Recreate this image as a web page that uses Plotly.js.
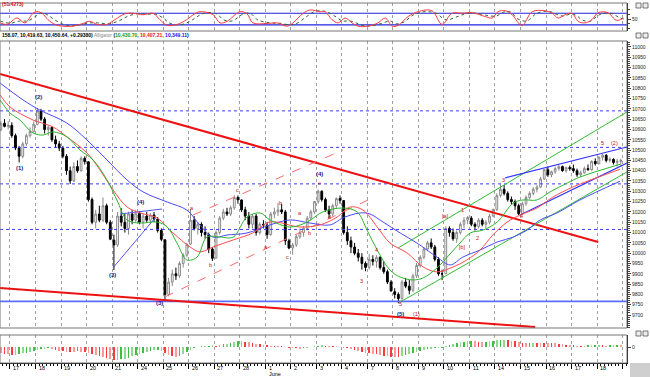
<!DOCTYPE html>
<html><head><meta charset="utf-8">
<script src="https://cdn.plot.ly/plotly-3.0.1.min.js"></script>
<style>body{margin:0;padding:0;background:#fff}#chart{width:650px;height:377px}</style>
</head><body><div id="chart"></div>
<script>
// ---------- DATA ----------
const dayLabels = ['17','18','19','20','21','24','25','26','27','28','1','2','3','4','7','8','9','10','11','14','15','16','17','18'];
const monthLabel = 'June';
const firstBar = -3; // bars before the first labelled day (May 14)

const open = [10600,10630,10615,
 10620,10570,10510,10470,10530,10570,10590,
 10625,10690,10650,10600,10610,10550,10530,
 10510,10470,10400,10350,10420,10400,10460,
 10443,10260,10150,10190,10160,10230,10150,
 10063,10040,10180,10150,10120,10190,10160,
 10193,10150,10180,10160,10185,10165,10110,
 10065,9800,9860,9900,9890,9950,9990,
 10044,10160,10120,10140,10100,10090,10020,
 9976,10100,10170,10200,10190,10220,10270,
 10258,10210,10180,10140,10180,10100,10140,
 10136,10090,10190,10200,10210,10200,10060,
 10025,10040,10080,10100,10120,10170,10200,
 10249,10300,10260,10210,10190,10230,10265,
 10255,10100,10060,10030,10000,9980,9950,
 9931,9970,9960,9980,9930,9910,9860,
 9813,9800,9780,9860,9840,9820,9890,
 9940,9980,10020,10050,10030,9970,9900,
 9900,10120,10100,10070,10100,10140,10160,
 10170,10140,10130,10160,10140,10150,10180,
 10212,10280,10310,10290,10260,10250,10230,
 10191,10240,10270,10290,10310,10320,10360,
 10404,10380,10395,10410,10420,10400,10415,
 10410,10400,10380,10390,10410,10405,10445,
 10434,10465,10475,10450,10455,10440,10445];
const high = [10640,10650,10640,
 10635,10580,10520,10540,10580,10610,10640,
 10705,10700,10660,10620,10615,10570,10545,
 10520,10480,10420,10440,10450,10470,10470,
 10445,10270,10210,10230,10270,10240,10160,
 10090,10200,10218,10190,10200,10210,10210,
 10203,10190,10200,10195,10200,10175,10120,
 10065,9880,9920,9930,9960,10000,10050,
 10214,10180,10150,10150,10130,10100,10030,
 10110,10180,10215,10220,10230,10281,10280,
 10260,10225,10200,10190,10190,10150,10160,
 10150,10200,10220,10245,10240,10210,10070,
 10050,10090,10120,10130,10180,10210,10252,
 10309,10305,10270,10230,10240,10270,10280,
 10256,10130,10080,10050,10020,10000,9960,
 9996,9990,9990,9985,9960,9920,9870,
 9830,9810,9870,9880,9870,9900,9952,
 9990,10030,10060,10071,10040,9980,9920,
 10130,10130,10120,10110,10150,10175,10180,
 10180,10150,10170,10170,10160,10190,10216,
 10290,10334,10330,10300,10275,10260,10240,
 10250,10280,10300,10320,10330,10370,10407,
 10420,10400,10420,10427,10425,10420,10425,
 10430,10410,10400,10420,10430,10450,10460,
 10470,10481,10480,10465,10460,10458,10458.07];
const low = [10590,10610,10600,
 10560,10500,10440,10460,10520,10560,10585,
 10620,10640,10580,10570,10540,10510,10495,
 10460,10380,10335,10345,10390,10395,10430,
 10250,10140,10120,10150,10150,10140,10063,
 9918,10030,10130,10100,10090,10140,10150,
 10140,10120,10150,10140,10150,10100,10058,
 9774,9790,9840,9870,9880,9930,9980,
 10040,10110,10090,10080,10070,10000,9962,
 9976,10090,10160,10180,10180,10210,10240,
 10200,10160,10120,10120,10085,10090,10120,
 10070,10085,10170,10180,10190,10040,10019,
 9992,10030,10070,10080,10110,10160,10190,
 10240,10250,10200,10170,10180,10220,10240,
 10090,10040,10000,9990,9960,9920,9912,
 9920,9940,9930,9920,9900,9850,9814,
 9780,9757,9770,9830,9800,9810,9880,
 9930,9970,10010,10020,9960,9890,9869,
 9900,10080,10060,10050,10090,10120,10140,
 10130,10110,10120,10130,10120,10140,10175,
 10205,10270,10280,10250,10235,10210,10185,
 10190,10230,10260,10280,10295,10315,10355,
 10370,10368,10385,10400,10395,10390,10400,
 10390,10370,10370,10385,10400,10400,10425,
 10430,10450,10440,10440,10430,10420,10419.63];
const close = [10630,10615,10620,
 10570,10510,10470,10530,10570,10590,10625,
 10690,10650,10600,10610,10550,10530,10510,
 10470,10400,10350,10420,10400,10460,10444,
 10260,10150,10190,10160,10230,10150,10068,
 10040,10180,10150,10120,10190,10160,10193,
 10150,10180,10160,10185,10165,10110,10067,
 9800,9860,9900,9890,9950,9990,10043,
 10160,10120,10140,10100,10090,10020,9975,
 10100,10170,10200,10190,10220,10270,10259,
 10210,10180,10140,10180,10100,10140,10137,
 10090,10190,10200,10210,10200,10060,10025,
 10040,10080,10100,10120,10170,10200,10250,
 10300,10260,10210,10190,10230,10265,10256,
 10100,10060,10030,10000,9980,9950,9931,
 9970,9960,9980,9930,9910,9860,9816,
 9800,9780,9860,9840,9820,9890,9940,
 9980,10020,10050,10030,9970,9900,9899,
 10120,10100,10070,10100,10140,10160,10173,
 10140,10130,10160,10140,10150,10180,10212,
 10280,10310,10290,10260,10250,10230,10191,
 10240,10270,10290,10310,10320,10360,10405,
 10380,10395,10410,10420,10400,10415,10410,
 10400,10380,10390,10410,10405,10445,10434,
 10465,10475,10450,10455,10440,10445,10450.64];

// Alligator lines (read at sparse points: bar position, price)
const jawX  = [-2.7,3.6,8.2,15.6,21.1,26.6,32.1,36.5,43.1,48.5,52.1,55.7,59.5,65,71.3,76.8,82.3,87.8,91.3,96,98.7,102.3,107,111.6,117.1,120.7,124.2,128.9,133.6,138,141.8,145.4,150,156.3,167.3];
const jawY  = [10825,10743,10694,10631,10549,10452,10355,10297,10248,10209,10136,10078,10088,10098,10137,10161,10146,10137,10171,10195,10190,10151,10098,10049,9981,9943,9981,10015,10054,10078,10112,10161,10195,10258,10349];
const teethX = [-2.7,0,6.3,11.8,15.6,21.1,24.7,28.3,32.1,35.7,40.3,44.7,49.4,52.1,55.7,61.2,66.6,71.3,79.5,85,89.7,93.3,96.8,100.7,104.2,108.9,113.3,117.1,121.5,125.3,128.9,132.5,136.3,139.9,144.5,148.9,154.4,167.3];
const teethY = [10767,10709,10646,10612,10564,10486,10403,10306,10224,10195,10171,10098,10030,10006,10030,10064,10098,10151,10127,10137,10175,10224,10209,10127,10049,10001,9933,9909,9933,9967,10015,10090,10150,10185,10219,10272,10321,10407];
const lipsX = [-2.7,0,2.7,6.3,9.1,11.8,15.6,19.2,22.8,26.6,29.3,32.1,35.7,40.3,43.1,45.8,48.5,51.3,54,57.6,61.2,65,68.6,71.3,76.8,81.5,85.8,91.3,95.2,97.9,100.7,104.2,107,110.5,113.3,117.1,119.9,123.4,126.2,129.7,133.6,138,140.7,144.5,148.1,152.8,156.3,167.3];
const lipsY = [10743,10680,10646,10583,10573,10588,10564,10500,10452,10355,10258,10161,10146,10151,10127,10049,9967,9981,10078,10078,10078,10175,10195,10161,10127,10151,10200,10219,10200,10112,10015,9918,9884,9870,9880,9928,9981,10049,10098,10112,10151,10243,10258,10258,10297,10340,10369,10431];

// Stochastic (top panel)
const stochKX = [-2.7,-0.8,1.9,4.1,6.3,7.4,8.8,10.4,12.3,14.3,17.3,20,21.9,23.9,26.6,28.8,31.5,33.7,36.5,39.2,41.1,43.1,45.8,48.5,50.2,52.1,55.7,57.6,59.5,63.1,65,66.6,70.5,73.2,76,77.6,80.4,82.3,85,86.4,88.3,90,91.9,93.8,95.4,98.2,100.9,102.9,104.8,106.4,109.2,111.9,115.7,118.5,121.2,124,126.7,130.3,132.2,133.8,135.8,137.7,140.4,143.2,146.7,148.7,150.3,152.2,154.1,155.8,157.7,159.6,161.3,164,165.9,166.8,168.2];
const stochK = [30,22,55,30,80,88,80,47,22,13,13,27,38,22,22,47,77,80,72,80,47,17,22,47,72,88,72,30,38,88,77,30,27,30,13,30,80,97,88,88,47,30,55,30,13,13,30,55,13,17,63,88,93,22,80,80,83,63,55,88,93,72,17,88,93,80,55,72,80,38,30,47,83,83,47,43,55];
const stochDX = [-2.7,0,2.7,4.9,7.1,8.8,10.4,12.3,14.3,16.5,19.2,21.9,24.1,26.9,29.6,32.4,35.1,37.8,40,42,43.9,46.6,49.4,51.3,53.5,56.5,58.7,60.9,63.9,65.8,68,71.3,74,76.8,78.7,81.5,83.7,86.4,89.1,91.1,93.3,94.9,96.5,99.3,102,104.2,105.9,108.1,110.5,113.8,116.8,119.6,122.3,125.1,127.8,131.1,133.3,135.2,137.1,139.3,141.8,144.5,147.8,149.8,151.7,153.6,155.2,156.9,159.1,160.7,162.6,165.1,167.3,168.4];
const stochD = [40,28,40,40,65,82,70,45,25,15,20,30,30,25,38,65,78,75,75,55,28,20,38,62,82,78,45,40,75,80,45,30,28,20,28,65,90,90,65,40,40,30,18,15,28,40,25,35,70,88,80,45,60,78,80,68,65,85,88,50,40,80,90,75,65,75,70,45,38,60,80,78,55,50];

// Oscillator histogram (bottom panel), one value per bar
const osc = [-6,-7,-7,
 -8,-8,-7,-6,-6,-5,-4,
 -3,-2,-2,-1,-2,-3,-4,
 -4,-5,-5,-5,-4,-5,-5,
 -6,-7,-8,-9,-10,-11,-12,
 -13,-13,-12,-12,-11,-9,-8,
 -7,-6,-5,-4,-3,-3,-4,
 -6,-8,-9,-10,-9,-7,-5,
 -3,-1,0.5,1,1,1.5,2,
 1.5,2,3,3.5,4.5,5,6,
 6,5.5,5,4.5,3.5,3,2.5,
 2,1.5,1,1,1,0.5,-0.5,
 -1,-1,-1.5,-1,-0.5,0.5,1,
 1.5,2,1.5,1,1,1,0.5,
 -0.5,-1,-2,-3,-4,-5,-6,
 -6,-7,-7,-8,-9,-9,-10,
 -10,-10,-9,-8,-7,-6,-5,
 -4,-3,-2,-1.5,-1,-0.5,-0.5,
 1,2,3,4,5,5.5,6,
 6,6,5.5,5,5.5,6,6.5,
 7,7,7.5,7,6.5,6,5,
 4,4,4.5,4.5,4.5,4.5,4.5,
 4.5,4,4,3.5,3,2.5,2,
 2,1.5,1.5,1.5,2,2,2.5,
 2.5,2,1.5,2,2,2.5,2];

// Drawn lines: [x0, y0, x1, y1] in bar / price units
const trendRedUpper = [-2.74,10869,161.3,10054];
const trendRedLower = [-2.74,9831,144,9642];
const supportBlue = 9766;
const levelsDotted = [10690,10513,10336,10115];
const channelRedA = [50.2,10185,91.3,10500];
const channelRedB = [42.5,9788,98.2,10258];
const triBlueA = [28.2,9928,39.8,10171];
const triBlueB = [30.2,10190,41.7,10214];
const channelGreenA = [106.4,10025,169.2,10685];
const channelGreenB = [107,9763,169.2,10394];
const wedgeBlueA = [135.8,10365,169.2,10515];
const wedgeBlueB = [139.9,10185,169.2,10437];

// Wave labels: [text, bar, price, colour key]
const waveLabels = [
 ['(1)',2.74,10413,'n'],['(2)',7.7,10758,'n'],['(3)',28.2,9894,'n'],['(4)',35.7,10248,'n'],['(3)',41.1,9758,'n'],
 ['a',49.9,10219,'r'],['b',55.1,9943,'r'],['c',62.5,10306,'r'],
 ['a',70.2,10030,'r'],['b',74.3,10243,'r'],['c',76.2,9981,'r'],['a',79.5,10195,'r'],['b',82,10098,'r'],['d',87.5,10175,'r'],
 ['(4)',85,10384,'n'],['e',85,10340,'r'],['3',96.5,9865,'r'],['4',100.4,10015,'r'],
 ['5',107,9752,'r'],['(5)',107.2,9705,'n'],['(1)',111.4,9705,'r'],
 ['[a]',119.3,10180,'r'],['1',124.2,10209,'r'],['[b]',124,10030,'r'],['2',128.1,10074,'r'],
 ['3',135.2,10355,'r'],['4',140.2,10180,'r'],['5',162.6,10534,'r'],['(2)',165.7,10534,'r']];

const xRange = [-2.74,169.2];
const priceRange = [9637,11029];

// ---------- BUILD ----------
const H = 377, W = 650, plotRight = 627/650;
const py = p => 1 - p/H;
const xs = open.map((_,i)=>firstBar+i+0.5);
const traces = [];

function seg(a, color, width, dash){
  traces.push({type:'scatter',mode:'lines',x:[a[0],a[2]],y:[a[1],a[3]],xaxis:'x',yaxis:'y2',
    line:{color:color,width:width,dash:dash||'solid'},hoverinfo:'skip'});
}
levelsDotted.forEach(v=>seg([xRange[0],v,xRange[1],v],'#3b3bff',1,'dot'));
seg([xRange[0],supportBlue,xRange[1],supportBlue],'#5a6cff',1.6);
seg(trendRedUpper,'#ee1111',2);
seg(trendRedLower,'#ee1111',2);
seg(channelRedA,'#ff6b6b',1,'dash');
seg(channelRedB,'#ff6b6b',1,'dash');
seg(triBlueA,'#5555ff',1);
seg(triBlueB,'#5555ff',1);
seg(channelGreenA,'#33bb33',1);
seg(channelGreenB,'#33bb33',1);
seg(wedgeBlueA,'#3333ff',1.2);
seg(wedgeBlueB,'#3333ff',1.2);

traces.push({type:'scatter',mode:'lines',x:jawX,y:jawY,xaxis:'x',yaxis:'y2',line:{color:'#4a4aff',width:1,shape:'spline'}});
traces.push({type:'scatter',mode:'lines',x:teethX,y:teethY,xaxis:'x',yaxis:'y2',line:{color:'#ff4d4d',width:1,shape:'spline'}});
traces.push({type:'scatter',mode:'lines',x:lipsX,y:lipsY,xaxis:'x',yaxis:'y2',line:{color:'#2db52d',width:1,shape:'spline'}});

traces.push({type:'candlestick',x:xs,open:open,high:high,low:low,close:close,xaxis:'x',yaxis:'y2',
  increasing:{line:{color:'#8a8a8a',width:1},fillcolor:'#ffffff'},
  decreasing:{line:{color:'#000000',width:1},fillcolor:'#000000'},whiskerwidth:0});

// stochastic
traces.push({type:'scatter',mode:'lines',x:[xRange[0],xRange[1]],y:[80,80],xaxis:'x',yaxis:'y',line:{color:'#2222dd',width:1.2}});
traces.push({type:'scatter',mode:'lines',x:[xRange[0],xRange[1]],y:[20,20],xaxis:'x',yaxis:'y',line:{color:'#2222dd',width:1.2}});
traces.push({type:'scatter',mode:'lines',x:stochDX,y:stochD,xaxis:'x',yaxis:'y',line:{color:'#336633',width:1,dash:'dot',shape:'spline'}});
traces.push({type:'scatter',mode:'lines',x:stochKX,y:stochK,xaxis:'x',yaxis:'y',line:{color:'#ff3b3b',width:1,shape:'spline'}});

// histogram
const oscColors = osc.map((v,i)=>{
  const up = i===0 ? false : v>osc[i-1] || (v===osc[i-1] && i>1 && osc[i-1]>osc[i-2]);
  return up ? (i%2? '#3fbf3f':'#8fd88f') : (i%2? '#ff3a3a':'#ff9a9a');
});
traces.push({type:'bar',x:xs,y:osc,xaxis:'x',yaxis:'y3',marker:{color:oscColors,line:{width:0}},width:0.45});

const dayTicks = dayLabels.map((_,d)=>7*d).concat([7*dayLabels.length]);

const annotations = [];
dayLabels.forEach((t,d)=>annotations.push({x:7*d+0.35,y:py(367.5),xref:'x',yref:'paper',text:t,showarrow:false,
  xanchor:'left',yanchor:'middle',font:{size:5.5,color:'#000',family:'Liberation Sans, Arial'}}));
annotations.push({x:7*10+0.35,y:py(373.5),xref:'x',yref:'paper',text:monthLabel,showarrow:false,xanchor:'left',yanchor:'middle',
  font:{size:5.5,color:'#000',family:'Liberation Sans, Arial'}});
waveLabels.forEach(w=>annotations.push({x:w[1],y:w[2],xref:'x',yref:'y2',text:w[0],showarrow:false,xanchor:'center',yanchor:'middle',
  font:{size:w[3]==='n'?6:5.5,color:w[3]==='n'?'#1a1a80':'#cc1111',family:'Liberation Sans, Arial',weight:w[3]==='n'?'bold':'normal'}}));
annotations.push({x:0,y:py(35.5),xref:'paper',yref:'paper',xanchor:'left',yanchor:'middle',showarrow:false,
  text:'<b>158.07, 10,419.63, 10,450.64, +0.29380)</b> <span style="color:#888">Alligator</span> <b>(<span style="color:#119911">10,430.70</span>, <span style="color:#ee1111">10,407.21</span>, <span style="color:#1111ee">10,349.11</span>)</b>',
  font:{size:5,color:'#000',family:'Liberation Sans, Arial'}});
annotations.push({x:0,y:py(4),xref:'paper',yref:'paper',xanchor:'left',yanchor:'middle',showarrow:false,
  text:'<b>(51.4273)</b>',font:{size:5,color:'#cc1111',family:'Liberation Sans, Arial'}});

const shapes = [
  {type:'rect',xref:'paper',yref:'paper',x0:0,x1:plotRight,y0:py(31),y1:py(3),line:{color:'#777',width:1}},
  {type:'rect',xref:'paper',yref:'paper',x0:0,x1:plotRight,y0:py(328),y1:py(41),line:{color:'#777',width:1}},
  {type:'rect',xref:'paper',yref:'paper',x0:0,x1:plotRight,y0:py(363),y1:py(335),line:{color:'#777',width:1}},
  {type:'rect',xref:'paper',yref:'paper',x0:630/W,x1:1,y0:0,y1:py(363),fillcolor:'#cfcfcf',line:{width:0}}
];
[3,33,331].forEach(t=>{
  shapes.push({type:'rect',xref:'paper',yref:'paper',x0:636/W,x1:641/W,y0:py(t+5),y1:py(t),line:{color:'#555',width:0.8},fillcolor:'#eee'});
  shapes.push({type:'rect',xref:'paper',yref:'paper',x0:643/W,x1:648/W,y0:py(t+5),y1:py(t),line:{color:'#555',width:0.8},fillcolor:'#eee'});
});

const tickFont = {size:5,color:'#222',family:'Liberation Sans, Arial'};
const priceTicks = [];
for (let p=9700;p<=11000;p+=50) priceTicks.push(p);

const layout = {
  width:W,height:H,margin:{l:0,r:0,t:0,b:0},paper_bgcolor:'#fff',plot_bgcolor:'#fff',showlegend:false,
  font:{family:'Liberation Sans, Arial'},
  xaxis:{domain:[0,plotRight],range:xRange,anchor:'y3',tickmode:'array',tickvals:dayTicks,showticklabels:false,
    rangeslider:{visible:false},
    ticks:'outside',ticklen:5,tickcolor:'#000',showgrid:true,gridcolor:'#a0a0a0',griddash:'dot',gridwidth:1,zeroline:false,
    showline:true,linecolor:'#000',linewidth:1,
    minor:{tickmode:'linear',tick0:0,dtick:1,ticks:'outside',ticklen:2,tickcolor:'#000',showgrid:false}},
  yaxis:{domain:[py(31),py(3)],range:[-12,133],anchor:'x',side:'right',tickvals:[50],ticktext:['50'],ticks:'outside',ticklen:3,
    tickfont:tickFont,showgrid:false,zeroline:false,showline:true,linecolor:'#000',
    minor:{tickvals:[0,25,75,100],ticks:'outside',ticklen:2}},
  yaxis2:{domain:[py(328),py(41)],range:priceRange,anchor:'x',side:'right',tickvals:priceTicks,tickformat:'d',ticks:'outside',ticklen:3,
    tickfont:tickFont,showgrid:false,zeroline:false,showline:true,linecolor:'#000',
    minor:{dtick:10,ticks:'outside',ticklen:1.5}},
  yaxis3:{domain:[py(363),py(335)],range:[-16,12],anchor:'x',side:'right',tickvals:[0],ticks:'outside',ticklen:3,
    tickfont:tickFont,showgrid:false,zeroline:false,showline:true,linecolor:'#000'},
  shapes:shapes,annotations:annotations,bargap:0
};
Plotly.newPlot('chart',traces,layout,{displayModeBar:false,staticPlot:true});
</script></body></html>
